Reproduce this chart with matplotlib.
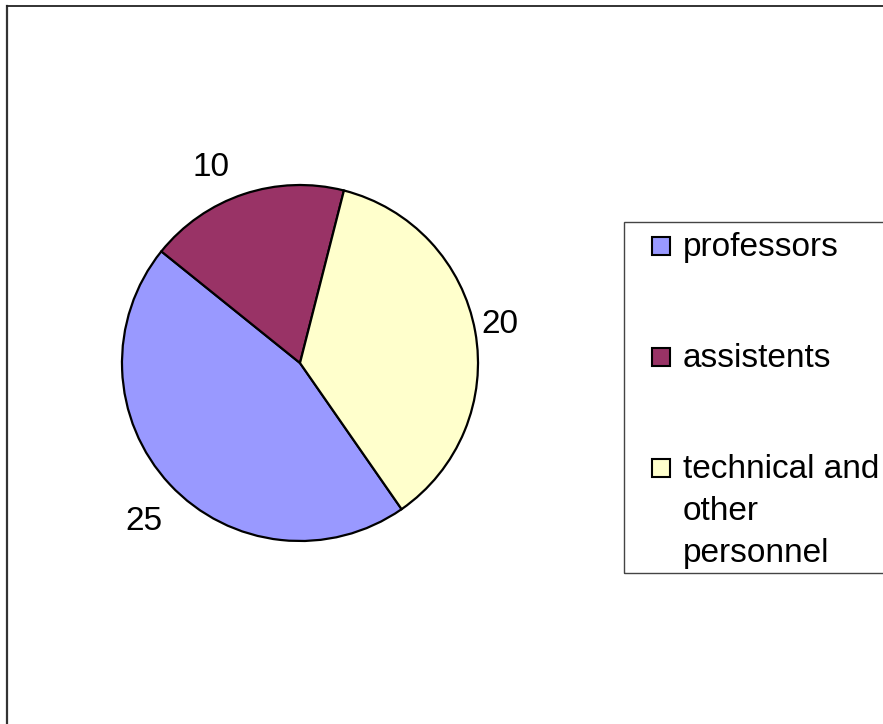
import numpy as np
import matplotlib
matplotlib.use('Agg')
import matplotlib.pyplot as plt
from matplotlib.patches import Rectangle
from matplotlib.lines import Line2D

plt.rcParams['font.family'] = ['Liberation Sans', 'DejaVu Sans']

categories = ['professors', 'assistents', 'technical and\nother\npersonnel']
values = [25, 10, 20]
colors = ['#9999FF', '#993366', '#FFFFCC']

W, H = 883, 724
fig = plt.figure(figsize=(W/100, H/100), dpi=100)

def fx(x):
	return x/W

def fy(y):
	return 1 - y/H

# outer chart frame (cut off at right and bottom)
fig.add_artist(Line2D([fx(7), fx(7)], [fy(6), fy(730)], color='#333333', lw=1.6))
fig.add_artist(Line2D([fx(7), fx(890)], [fy(6), fy(6)], color='#222222', lw=1.3))

# pie
cx, cy, r = 300, 363, 178
half = 250
ax = fig.add_axes([fx(cx-half), fy(cy+half), 2*half/W, 2*half/H])
wedges, _ = ax.pie(values, colors=colors, startangle=-55.2, counterclock=False,
	wedgeprops=dict(edgecolor='black', linewidth=1.6))
lim = half/r
ax.set_xlim(-lim, lim)
ax.set_ylim(-lim, lim)
ax.axis('off')

# value labels, nudged (in pixels) like the excel layout
nudges = [(0, -13), (-21, -7), (-10, 0)]
for w, v, (dx, dy) in zip(wedges, values, nudges):
	th = np.deg2rad((w.theta1 + w.theta2)/2)
	ax.annotate(str(v), (1.2*np.cos(th), 1.2*np.sin(th)), xytext=(dx*0.72, dy*0.72),
		textcoords='offset points', ha='center', va='center', fontsize=24)

# legend box
fig.add_artist(Rectangle((fx(624), fy(573)), fx(900-624), (573-222)/H, transform=fig.transFigure,
	facecolor='none', edgecolor='#444444', lw=1.0))
baselines = [256, 367, 478]
for lab, col, b in zip(categories, colors, baselines):
	fig.add_artist(Rectangle((fx(652), fy(b-1)), 18/W, 18/H, transform=fig.transFigure,
		facecolor=col, edgecolor='black', lw=1.5))
	for i, line in enumerate(lab.split('\n')):
		fig.text(fx(683), fy(b + 42*i), line, ha='left', va='baseline', fontsize=24)

fig.savefig('out.png', dpi=100)
